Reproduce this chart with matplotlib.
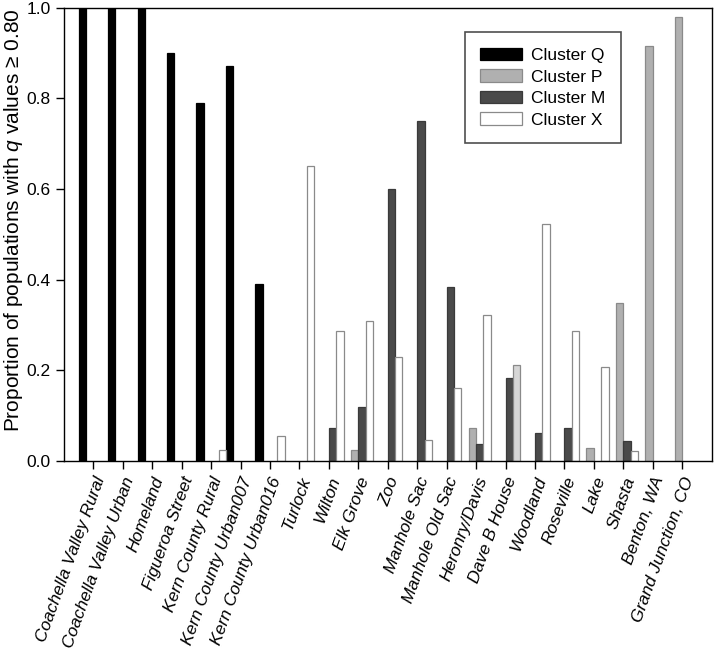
import matplotlib
matplotlib.use("Agg")
import matplotlib.pyplot as plt
import numpy as np

plt.rcParams["font.family"] = ["Liberation Sans", "DejaVu Sans"]
plt.rcParams["mathtext.fontset"] = "custom"
plt.rcParams["mathtext.it"] = "Liberation Sans:italic"
plt.rcParams["mathtext.rm"] = "Liberation Sans"

sites = [
    "Coachella Valley Rural", "Coachella Valley Urban", "Homeland",
    "Figueroa Street", "Kern County Rural", "Kern County Urban007",
    "Kern County Urban016", "Turlock", "Wilton", "Elk Grove", "Zoo",
    "Manhole Sac", "Manhole Old Sac", "Heronry/Davis", "Dave B House",
    "Woodland", "Roseville", "Lake", "Shasta", "Benton, WA",
    "Grand Junction, CO",
]
cluster_q = [1.0, 1.0, 1.0, 0.90, 0.79, 0.87, 0.39, 0, 0, 0, 0,
             0, 0, 0, 0, 0, 0, 0, 0, 0, 0]
cluster_p = [0, 0, 0, 0, 0, 0, 0, 0, 0, 0.024, 0,
             0, 0, 0.072, 0, 0, 0, 0.029, 0.349, 0.916, 0.980]
cluster_m = [0, 0, 0, 0, 0, 0, 0, 0, 0.072, 0.120, 0.600,
             0.750, 0.383, 0.037, 0.182, 0.061, 0.072, 0, 0.044, 0, 0]
cluster_x = [0, 0, 0, 0, 0.025, 0, 0.055, 0.650, 0.287, 0.309, 0.229,
             0.046, 0.161, 0.322, 0.212, 0.522, 0.287, 0.207, 0.022, 0, 0]

x = np.arange(len(sites))
w = 0.25

fig = plt.figure(figsize=(7.14, 6.53), dpi=100)
ax = fig.add_axes([0.0896, 0.294, 0.907, 0.6945])

def draw(vals, offset, face, edge, label):
    v = np.array(vals, dtype=float)
    v[v == 0] = np.nan
    return ax.bar(x + offset, v, width=w, color=face, edgecolor=edge,
                  linewidth=0.9, label=label)

draw(cluster_q, -1.5 * w, "#000000", "#000000", "Cluster Q")
draw(cluster_p, -0.5 * w, "#b0b0b0", "#8a8a8a", "Cluster P")
draw(cluster_m, 0.5 * w, "#4a4a4a", "#3a3a3a", "Cluster M")
bx = draw(cluster_x, 1.5 * w, "#ffffff", "#8a8a8a", "Cluster X")
# the Dave B House bar is printed in a light grey in the original
bx.patches[sites.index("Dave B House")].set_facecolor("#d6d6d6")

ax.set_xlim(-1, len(sites))
ax.set_ylim(0, 1.0)
ax.set_yticks(np.arange(0, 1.01, 0.2))
ax.set_yticklabels([f"{t:.1f}" for t in np.arange(0, 1.01, 0.2)], fontsize=12.5)
ax.set_xticks(x)
ax.set_xticklabels(sites, rotation=70, ha="right", va="top",
                   rotation_mode="anchor", fontsize=12.5, style="italic")
ax.tick_params(axis="both", direction="out", length=6, width=1)
ax.tick_params(axis="x", pad=4)
for s in ax.spines.values():
    s.set_linewidth(1)

ax.set_ylabel("Proportion of populations with $q$ values \u2265 0.80",
              fontsize=15)
ax.yaxis.set_label_coords(-0.06, 0.53)

leg = ax.legend(loc="upper left", bbox_to_anchor=(0.619, 0.946), fontsize=12.5,
                frameon=True, fancybox=False, edgecolor="#222222",
                handlelength=2.4, handleheight=0.75, labelspacing=0.35,
                borderpad=0.9, borderaxespad=0, handletextpad=0.5)
leg.get_frame().set_linewidth(1.2)

fig.savefig("out.png", dpi=100)
